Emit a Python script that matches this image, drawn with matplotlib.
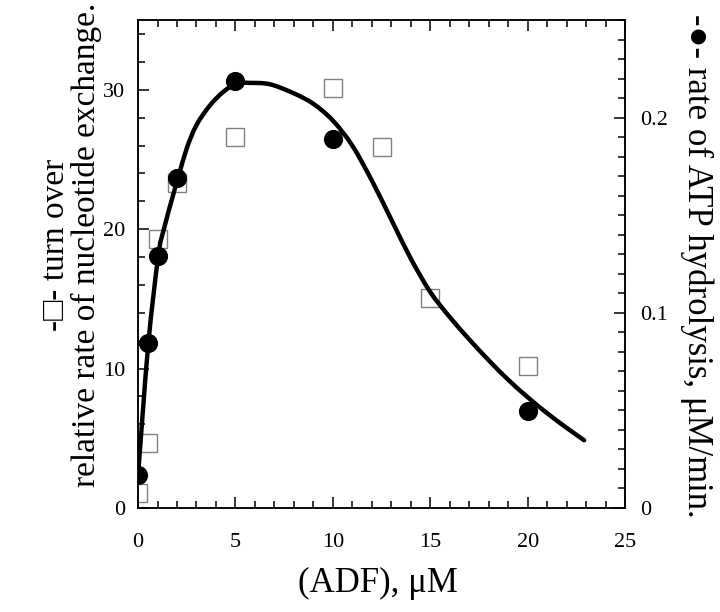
import matplotlib
matplotlib.use("Agg")
from matplotlib import pyplot as plt
from matplotlib.path import Path
from matplotlib.patches import PathPatch
from matplotlib.ticker import MultipleLocator, FuncFormatter

plt.rcParams['font.family'] = ['Liberation Serif', 'DejaVu Serif']

# open squares: relative rate of nucleotide exchange (left axis)
sq_x = [0, 0.5, 1, 2, 5, 10, 12.5, 15, 20]
sq_y = [1.05, 4.65, 19.3, 23.3, 26.6, 30.1, 25.9, 15.1, 10.2]

# filled circles: rate of ATP hydrolysis, uM/min (right axis)
ci_x = [0, 0.5, 1, 2, 5, 10, 20]
ci_y = [0.0169, 0.0843, 0.129, 0.169, 0.219, 0.189, 0.0495]

# fitted curve (left axis units)
fit_x = [0, 0.53, 1.04, 1.30, 1.81, 2.07, 2.50, 3.01, 3.70, 4.38, 5.06, 5.75,
         6.78, 8.0, 9.0, 10.0, 11.0, 12.0, 13.0, 14.0, 15.0, 16.0, 17.0, 18.0,
         19.0, 20.0, 21.0, 22.0, 22.9]
fit_y = [2.36, 11.8, 18.1, 19.86, 22.5, 23.75, 25.8, 27.5, 28.9, 29.86, 30.45, 30.5,
         30.4, 29.75, 29.0, 27.8, 26.0, 23.5, 20.7, 17.9, 15.5, 13.7, 12.1, 10.6,
         9.2, 7.95, 6.8, 5.75, 4.86]


def smooth_path(xs, ys):
    # pass a smooth Bezier line through the read points (Catmull-Rom style)
    pts = list(zip(xs, ys))
    n = len(pts)
    verts = [pts[0]]
    codes = [Path.MOVETO]
    for i in range(n - 1):
        p0 = pts[max(i - 1, 0)]
        p1 = pts[i]
        p2 = pts[i + 1]
        p3 = pts[min(i + 2, n - 1)]
        c1 = (p1[0] + (p2[0] - p0[0]) / 6, p1[1] + (p2[1] - p0[1]) / 6)
        c2 = (p2[0] - (p3[0] - p1[0]) / 6, p2[1] - (p3[1] - p1[1]) / 6)
        verts += [c1, c2, p2]
        codes += [Path.CURVE4] * 3
    return Path(verts, codes)


fig = plt.figure(figsize=(7.2, 6.12), dpi=100)
ax = fig.add_axes([0.1917, 0.170, 0.6764, 0.797])
ax2 = ax.twinx()

ax.plot(sq_x, sq_y, 's', ms=12.5, mfc='white', mec='#808080', mew=1.0, zorder=2)
ax.add_patch(PathPatch(smooth_path(fit_x, fit_y), fill=False, ec='black', lw=3.2,
                       capstyle='round', joinstyle='round', zorder=3))
ax2.plot(ci_x, ci_y, 'o', ms=12.8, color='black', zorder=4)

ax.set_xlim(0, 25)
ax.set_ylim(0, 35)
ax2.set_ylim(0, 0.25)

ax.xaxis.set_major_locator(MultipleLocator(5))
ax.xaxis.set_minor_locator(MultipleLocator(1))
ax.yaxis.set_major_locator(MultipleLocator(10))
ax.yaxis.set_minor_locator(MultipleLocator(2))
ax2.yaxis.set_major_locator(MultipleLocator(0.1))
ax2.yaxis.set_minor_locator(MultipleLocator(0.01))
ax2.yaxis.set_major_formatter(FuncFormatter(lambda v, p: '0' if v == 0 else '%.1f' % v))

for a in (ax, ax2):
    for s in a.spines.values():
        s.set_linewidth(1.1)
ax.tick_params(axis='x', which='both', direction='in', top=True, labelsize=16, pad=18, width=1.1)
ax.tick_params(axis='y', which='both', direction='in', right=False, labelsize=16, pad=9, width=1.1)
ax.tick_params(which='major', length=8)
ax.tick_params(which='minor', length=5)
ax2.tick_params(axis='y', which='both', direction='in', labelsize=16, pad=11, width=1.1)
ax2.tick_params(which='major', length=8)
ax2.tick_params(which='minor', length=5)

fig.text(0.525, 0.047, '(ADF), \u03bcM', fontsize=25, ha='center', va='center')
fig.text(0.099, 0.60, '-\u25a1- turn over\nrelative rate of nucleotide exchange.',
         fontsize=24, ha='center', va='center', rotation=90, multialignment='center',
         linespacing=0.98, family=['Liberation Serif', 'DejaVu Sans'])
fig.text(0.968, 0.565, '-\u25cf- rate of ATP hydrolysis, \u03bcM/min.',
         fontsize=25, ha='center', va='center', rotation=270,
         family=['Liberation Serif', 'DejaVu Sans'])

plt.savefig("out.png", dpi=100)
